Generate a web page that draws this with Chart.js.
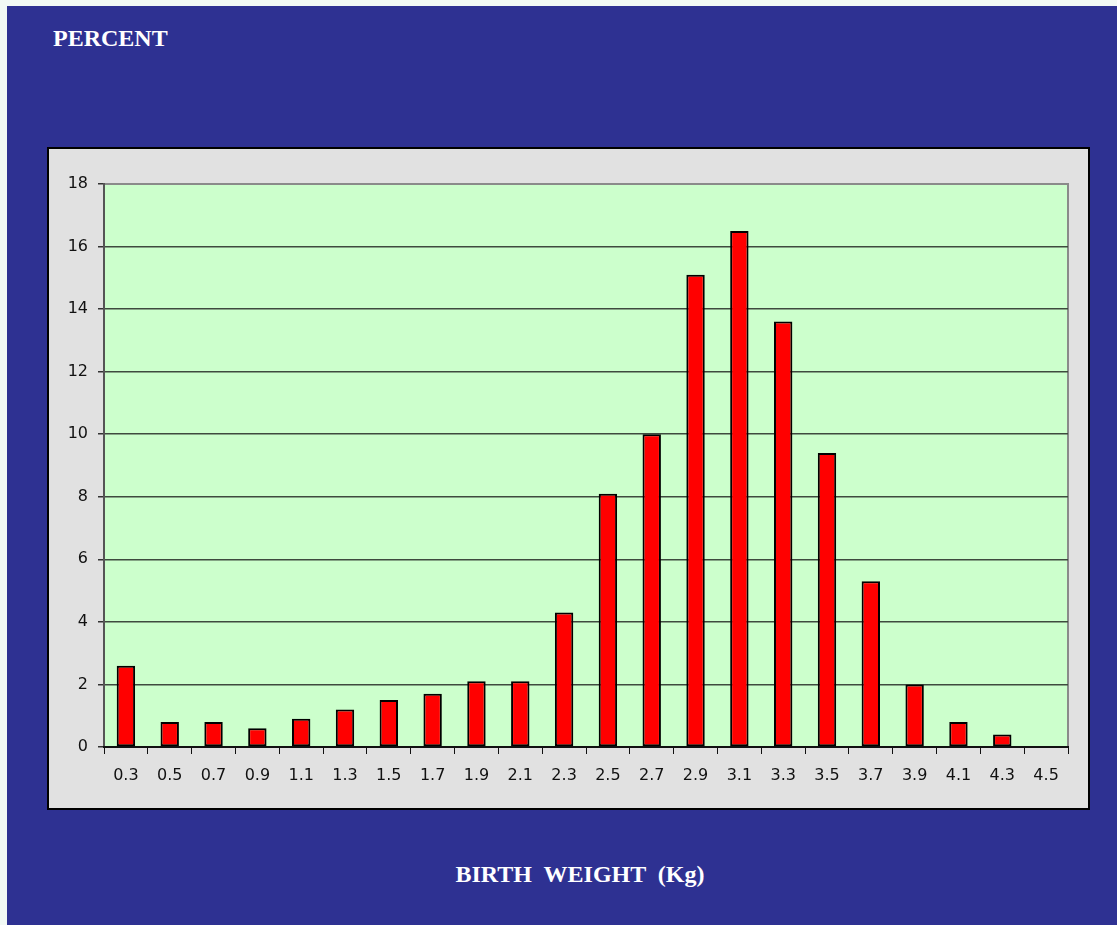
<!DOCTYPE html>
<html>
<head>
<meta charset="utf-8">
<script src="https://cdn.jsdelivr.net/npm/chart.js@4"></script>
<style>
    body { margin: 0; background: #f2f9f5; width: 1117px; height: 925px; overflow: hidden; }
    #slide { position: absolute; left: 7px; top: 6px; width: 1110px; height: 919px; background: #2e3192; }
    .title { position: absolute; color: #fff; font-family: 'Liberation Serif', 'Times New Roman', serif; font-weight: bold; font-size: 24px; white-space: pre; }
    #panel { position: absolute; left: 40px; top: 141px; width: 1039px; height: 659px; background: #e1e1e1; border: 2px solid #000; }
</style>
</head>
<body>
<div id="slide">
    <div class="title" style="left:46px; top:19px;">PERCENT</div>
    <div id="panel"><canvas id="chart" width="1039" height="659"></canvas></div>
    <div class="title" style="left:0; width:1146px; text-align:center; top:855px;">BIRTH  WEIGHT  (Kg)</div>
</div>
<script>
const categories = ["0.3","0.5","0.7","0.9","1.1","1.3","1.5","1.7","1.9","2.1","2.3","2.5","2.7","2.9","3.1","3.3","3.5","3.7","3.9","4.1","4.3","4.5"];
const percents = [2.6, 0.8, 0.8, 0.6, 0.9, 1.2, 1.5, 1.7, 2.1, 2.1, 4.3, 8.1, 10.0, 15.1, 16.5, 13.6, 9.4, 5.3, 2.0, 0.8, 0.4, 0];
const yTicks = [0, 2, 4, 6, 8, 10, 12, 14, 16, 18];

const plotBg = {
    id: 'plotBg',
    beforeDraw(chart) {
        const a = chart.chartArea, ctx = chart.ctx;
        ctx.save();
        ctx.fillStyle = '#ccffcc';
        ctx.fillRect(a.left, a.top, a.right - a.left, a.bottom - a.top);
        ctx.strokeStyle = '#8a8a8a';
        ctx.lineWidth = 2;
        ctx.beginPath();
        ctx.moveTo(a.left, a.top);
        ctx.lineTo(a.right, a.top);
        ctx.lineTo(a.right, a.bottom);
        ctx.stroke();
        ctx.restore();
    }
};

function initChart() {
    let data = {
        labels: categories,
        datasets: [{
            backgroundColor: '#ff0000',
            borderColor: '#000000',
            borderWidth: 2,
            borderSkipped: false,
            barPercentage: 0.42,
            categoryPercentage: 1,
            data: percents
        }]
    };

    let options = {
        responsive: false,
        animation: false,
        layout: { padding: { top: 35, right: 20, left: 0, bottom: 0 } },
        plugins: { legend: { display: false }, tooltip: { enabled: false } },
        scales: {
            y: {
                min: 0,
                max: 18,
                afterFit(scale) { scale.width = 55; },
                afterBuildTicks(scale) { scale.ticks = yTicks.map(v => ({ value: v })); },
                border: { color: '#555555', width: 2 },
                grid: {
                    color: ctx => ctx.tick && ctx.tick.value === 18 ? '#8a8a8a' : '#3e4a3e',
                    tickColor: '#333333',
                    tickLength: 6,
                    lineWidth: 1.5
                },
                ticks: {
                    color: '#111111',
                    padding: 10,
                    font: { size: 16, family: 'DejaVu Sans' }
                }
            },
            x: {
                offset: true,
                afterFit(scale) { scale.height = 61; },
                border: { color: '#111111', width: 2 },
                grid: {
                    offset: true,
                    drawOnChartArea: false,
                    color: '#111111',
                    tickLength: 7
                },
                ticks: {
                    color: '#111111',
                    padding: 12,
                    maxRotation: 0,
                    autoSkip: false,
                    font: { size: 16, family: 'DejaVu Sans' }
                }
            }
        }
    };

    let ctx = document.getElementById('chart').getContext('2d');
    const chart = new Chart(ctx, {
        type: 'bar',
        data: data,
        options: options,
        plugins: [plotBg]
    });
}

initChart();
</script>
</body>
</html>
